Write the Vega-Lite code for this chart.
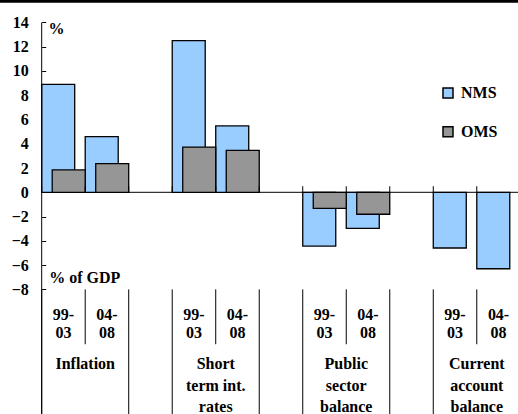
{
  "$schema": "https://vega.github.io/schema/vega-lite/v6.json",
  "width": 563.8,
  "height": 414,
  "autosize": {"type": "none"},
  "padding": 0,
  "background": "white",
  "config": {
    "view": {"stroke": null},
    "font": "Liberation Serif"
  },
  "datasets": {
    "bars": [
      {"slot": "Inflation 99-03", "series": "NMS", "value": 8.9},
      {"slot": "Inflation 99-03", "series": "OMS", "value": 1.84},
      {"slot": "Inflation 04-08", "series": "NMS", "value": 4.58},
      {"slot": "Inflation 04-08", "series": "OMS", "value": 2.36},
      {"slot": "Short 99-03", "series": "NMS", "value": 12.5},
      {"slot": "Short 99-03", "series": "OMS", "value": 3.73},
      {"slot": "Short 04-08", "series": "NMS", "value": 5.47},
      {"slot": "Short 04-08", "series": "OMS", "value": 3.46},
      {"slot": "Public 99-03", "series": "NMS", "value": -4.43},
      {"slot": "Public 99-03", "series": "OMS", "value": -1.32},
      {"slot": "Public 04-08", "series": "NMS", "value": -2.97},
      {"slot": "Public 04-08", "series": "OMS", "value": -1.81},
      {"slot": "Current 99-03", "series": "NMS", "value": -4.59},
      {"slot": "Current 04-08", "series": "NMS", "value": -6.3}
    ],
    "slots": [
      {"slot": "Inflation 99-03", "period": "99-03", "label": ["99-", "03"]},
      {"slot": "Inflation 04-08", "period": "04-08", "label": ["04-", "08"]},
      {"slot": "gap1", "period": "gap", "label": [""]},
      {"slot": "Short 99-03", "period": "99-03", "label": ["99-", "03"]},
      {"slot": "Short 04-08", "period": "04-08", "label": ["04-", "08"]},
      {"slot": "gap2", "period": "gap", "label": [""]},
      {"slot": "Public 99-03", "period": "99-03", "label": ["99-", "03"]},
      {"slot": "Public 04-08", "period": "04-08", "label": ["04-", "08"]},
      {"slot": "gap3", "period": "gap", "label": [""]},
      {"slot": "Current 99-03", "period": "99-03", "label": ["99-", "03"]},
      {"slot": "Current 04-08", "period": "04-08", "label": ["04-", "08"]},
      {"slot": "end", "period": "gap", "label": [""]}
    ],
    "groups": [
      {"slot": "Inflation 04-08", "label": ["Inflation"]},
      {"slot": "Short 04-08", "label": ["Short", "term int.", "rates"]},
      {"slot": "Public 04-08", "label": ["Public", "sector", "balance"]},
      {"slot": "Current 04-08", "label": ["Current", "account", "balance"]}
    ]
  },
  "layer": [
    {
      "data": {"values": [{"k": 1}]},
      "mark": {"type": "rule", "color": "black", "strokeWidth": 2.8},
      "encoding": {
        "y": {"datum": 15.74, "type": "quantitative",
              "scale": {"domain": [-18.268, 15.845], "nice": false, "zero": false},
              "axis": {"orient": "left", "offset": -41.7, "values": [-8, -6, -4, -2, 0, 2, 4, 6, 8, 10, 12, 14], "tickCount": 40, "labelOverlap": false, "labelBound": false, "domain": false, "grid": false, "ticks": true, "tickSize": -4, "tickColor": "black", "tickWidth": 1, "labelFont": "Liberation Serif", "labelFontWeight": "bold", "labelFontSize": 16, "labelColor": "black", "labelPadding": 17.4, "title": null}}
      }
    },
    {
      "data": {"values": [{"slot": "Inflation 99-03"}]},
      "mark": {"type": "rule", "color": "black", "strokeWidth": 1},
      "encoding": {
        "x": {"field": "slot", "type": "nominal", "bandPosition": 0,
              "scale": {"domain": ["Inflation 99-03", "Inflation 04-08", "gap1", "Short 99-03", "Short 04-08", "gap2", "Public 99-03", "Public 04-08", "gap3", "Current 99-03", "Current 04-08", "end"], "paddingInner": 0, "paddingOuter": 0.4792, "align": 1},
              "axis": null},
        "x2": {"datum": "end"},
        "y": {"datum": 0, "type": "quantitative"}
      }
    },
    {
      "data": {"name": "bars"},
      "transform": [{"filter": "datum.series == 'NMS'"}],
      "mark": {"type": "bar", "width": {"band": 0.7584}, "xOffset": -5.25, "stroke": "black", "strokeWidth": 1.3},
      "encoding": {
        "x": {"field": "slot", "type": "nominal", "axis": null},
        "y": {"field": "value", "type": "quantitative"},
        "y2": {"datum": 0},
        "color": {"field": "series", "type": "nominal",
                  "scale": {"domain": ["NMS", "OMS"], "range": ["#99CCFF", "#969696"]},
                  "legend": {"orient": "none", "legendX": 440, "legendY": 85, "title": null, "symbolType": "square", "symbolSize": 100, "symbolStrokeColor": "black", "symbolStrokeWidth": 1.5, "rowPadding": 22.7, "labelFont": "Liberation Serif", "labelFontWeight": "bold", "labelFontSize": 16, "labelColor": "black", "labelOffset": 5}}
      }
    },
    {
      "data": {"name": "bars"},
      "transform": [{"filter": "datum.series == 'OMS'"}],
      "mark": {"type": "bar", "width": {"band": 0.7584}, "xOffset": 5.25, "stroke": "black", "strokeWidth": 1.3},
      "encoding": {
        "x": {"field": "slot", "type": "nominal", "axis": null},
        "y": {"field": "value", "type": "quantitative"},
        "y2": {"datum": 0},
        "color": {"field": "series", "type": "nominal"}
      }
    },
    {
      "data": {"name": "slots"},
      "mark": {"type": "rule", "color": "black", "strokeWidth": 1},
      "encoding": {
        "x": {"field": "slot", "type": "nominal", "bandPosition": 0, "axis": null},
        "y": {"datum": 0, "type": "quantitative"},
        "y2": {"datum": 0.5}
      }
    },
    {
      "data": {"name": "slots"},
      "transform": [{"filter": "datum.period != '04-08'"}],
      "mark": {"type": "rule", "color": "black", "strokeWidth": 1},
      "encoding": {
        "x": {"field": "slot", "type": "nominal", "bandPosition": 0, "axis": null},
        "y": {"datum": -8, "type": "quantitative"},
        "y2": {"datum": -18.268}
      }
    },
    {
      "data": {"name": "slots"},
      "transform": [{"filter": "datum.period == '04-08'"}],
      "mark": {"type": "rule", "color": "black", "strokeWidth": 1},
      "encoding": {
        "x": {"field": "slot", "type": "nominal", "bandPosition": 0, "axis": null},
        "y": {"datum": -8, "type": "quantitative"},
        "y2": {"datum": -12.52}
      }
    },
    {
      "data": {"values": [{"slot": "Inflation 99-03"}]},
      "mark": {"type": "rule", "color": "black", "strokeWidth": 1},
      "encoding": {
        "x": {"field": "slot", "type": "nominal", "bandPosition": 0, "axis": null},
        "y": {"datum": 14, "type": "quantitative"},
        "y2": {"datum": -18.268}
      }
    },
    {
      "data": {"name": "slots"},
      "transform": [{"filter": "datum.period != 'gap'"}],
      "mark": {"type": "text", "font": "Liberation Serif", "fontWeight": "bold", "fontSize": 16, "color": "black", "align": "center", "baseline": "alphabetic", "lineHeight": 18.3},
      "encoding": {
        "x": {"field": "slot", "type": "nominal", "axis": null},
        "y": {"datum": -10.52, "type": "quantitative"},
        "text": {"field": "label", "type": "nominal"}
      }
    },
    {
      "data": {"name": "groups"},
      "mark": {"type": "text", "font": "Liberation Serif", "fontWeight": "bold", "fontSize": 16, "color": "black", "align": "center", "baseline": "alphabetic", "lineHeight": 21.5},
      "encoding": {
        "x": {"field": "slot", "type": "nominal", "bandPosition": 0, "axis": null},
        "y": {"datum": -14.58, "type": "quantitative"},
        "text": {"field": "label", "type": "nominal"}
      }
    },
    {
      "data": {"values": [{"slot": "Inflation 99-03", "note": "%"}]},
      "mark": {"type": "text", "font": "Liberation Serif", "fontWeight": "bold", "fontSize": 16, "color": "black", "align": "left", "baseline": "middle", "dx": 6.8},
      "encoding": {
        "x": {"field": "slot", "type": "nominal", "bandPosition": 0, "axis": null},
        "y": {"datum": 13.44, "type": "quantitative"},
        "text": {"field": "note", "type": "nominal"}
      }
    },
    {
      "data": {"values": [{"slot": "Inflation 99-03", "note": "% of GDP"}]},
      "mark": {"type": "text", "font": "Liberation Serif", "fontWeight": "bold", "fontSize": 16, "color": "black", "align": "left", "baseline": "middle", "dx": 7.5},
      "encoding": {
        "x": {"field": "slot", "type": "nominal", "bandPosition": 0, "axis": null},
        "y": {"datum": -7.09, "type": "quantitative"},
        "text": {"field": "note", "type": "nominal"}
      }
    }
  ]
}
